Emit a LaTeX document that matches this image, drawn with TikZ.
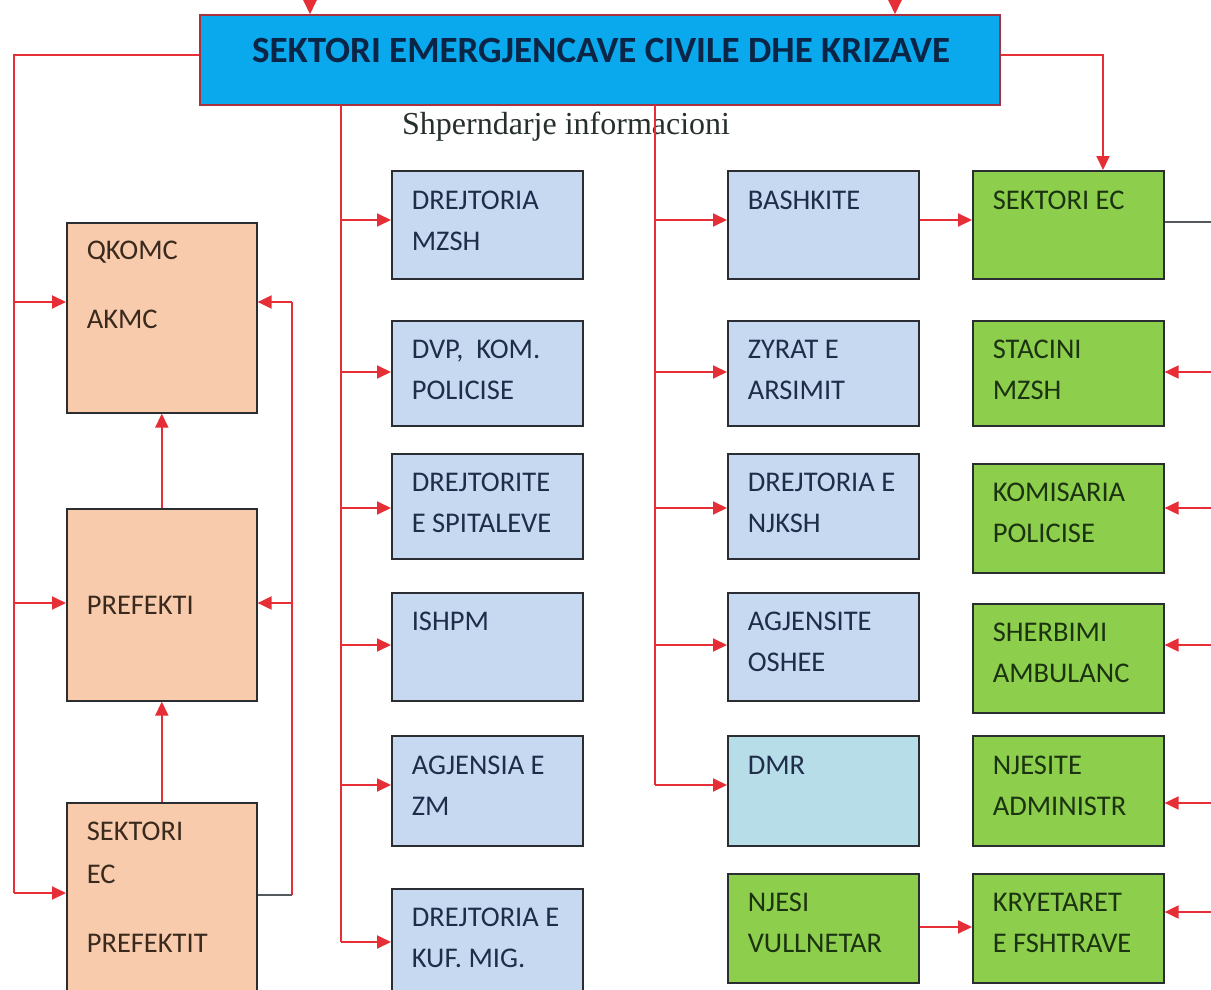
\documentclass[tikz,border=0pt]{standalone}
\usepackage{fontspec}
\setmainfont{Carlito}
\newfontfamily\serfont{Liberation Serif}
\usetikzlibrary{arrows.meta,calc}
\definecolor{lc}{HTML}{E62E36}
\definecolor{topf}{HTML}{0AA8EC}
\definecolor{topline}{HTML}{A8323E}
\definecolor{titlec}{HTML}{0B2546}
\definecolor{infoc}{HTML}{26302A}
\definecolor{peachf}{HTML}{F8CBAD}
\definecolor{peacht}{HTML}{3A2A1E}
\definecolor{bluef}{HTML}{C6D9F1}
\definecolor{bluet}{HTML}{1F2D4A}
\definecolor{dmrf}{HTML}{B7DDE8}
\definecolor{greenf}{HTML}{8DCF4C}
\definecolor{greent}{HTML}{1B3311}
\definecolor{boxline}{HTML}{2A2E33}
\newcommand{\bc}[4]{\parbox[c][#2pt][t]{#1pt}{\vspace*{#3pt}\leftskip=20pt\relax\noindent #4\par}}
\begin{document}
\begin{tikzpicture}[x=1pt,y=-1pt,
  box/.style={draw=boxline, line width=1.6pt, inner sep=0pt, anchor=north west, font=\fontsize{28.5}{41}\selectfont},
  peachbox/.style={box, fill=peachf, text=peacht},
  bluebox/.style={box, fill=bluef, text=bluet},
  dmrbox/.style={box, fill=dmrf, text=bluet},
  greenbox/.style={box, fill=greenf, text=greent},
  rl/.style={draw=lc, line width=1.9pt},
  dk/.style={draw=boxline!80, line width=1.9pt},
  arr/.style={rl, -{Triangle[length=14pt,width=13pt]}}
]
\useasboundingbox (0,0) rectangle (1211,990);

% top box
\node[draw=topline, line width=1.5pt, fill=topf, minimum width=800pt, minimum height=90pt, inner sep=0pt] (top) at (600,60) {};
\node[text=titlec, font=\bfseries\fontsize{37}{40}\selectfont, inner sep=0pt] (title) at (601,50) {SEKTORI EMERGJENCAVE CIVILE DHE KRIZAVE};
\node[anchor=west, inner sep=0pt, text=infoc, font=\serfont\fontsize{32}{34}\selectfont] (info) at (402,127) {Shperndarje informacioni};

% left column
\node[peachbox] (qk)  at (66,222) {\bc{190}{190}{18}{QKOMC\\[28pt]AKMC}};
\node[peachbox] (pre) at (66,508) {\bc{190}{192}{87}{PREFEKTI}};
\node[peachbox] (sek) at (66,802) {\bc{190}{210}{19}{SEKTORI\\[2pt]EC\\[28pt]PREFEKTIT}};

% column 2
\node[bluebox] (b1) at (391,170) {\bc{191}{108}{20}{DREJTORIA\\MZSH}};
\node[bluebox] (b2) at (391,320) {\bc{191}{105}{19}{DVP,~ KOM.\\POLICISE}};
\node[bluebox] (b3) at (391,453) {\bc{191}{105}{19}{DREJTORITE\\E SPITALEVE}};
\node[bluebox] (b4) at (391,592) {\bc{191}{108}{19}{ISHPM}};
\node[bluebox] (b5) at (391,735) {\bc{191}{110}{20}{AGJENSIA E\\ZM}};
\node[bluebox] (b6) at (391,888) {\bc{191}{120}{19}{DREJTORIA E\\KUF. MIG.}};

% column 3
\node[bluebox] (c1) at (727,170) {\bc{191}{108}{20}{BASHKITE}};
\node[bluebox] (c2) at (727,320) {\bc{191}{105}{19}{ZYRAT E\\ARSIMIT}};
\node[bluebox] (c3) at (727,453) {\bc{191}{105}{19}{DREJTORIA E\\NJKSH}};
\node[bluebox] (c4) at (727,592) {\bc{191}{108}{19}{AGJENSITE\\OSHEE}};
\node[dmrbox]  (c5) at (727,735) {\bc{191}{110}{20}{DMR}};
\node[greenbox] (c6) at (727,873) {\bc{191}{109}{19}{NJESI\\VULLNETAR}};

% column 4
\node[greenbox] (g1) at (972,170) {\bc{191}{108}{20}{SEKTORI EC}};
\node[greenbox] (g2) at (972,320) {\bc{191}{105}{19}{STACINI\\MZSH}};
\node[greenbox] (g3) at (972,463) {\bc{191}{109}{19}{KOMISARIA\\POLICISE}};
\node[greenbox] (g4) at (972,603) {\bc{191}{109}{19}{SHERBIMI\\AMBULANC}};
\node[greenbox] (g5) at (972,735) {\bc{191}{110}{20}{NJESITE\\ADMINISTR}};
\node[greenbox] (g6) at (972,873) {\bc{191}{109}{19}{KRYETARET\\E FSHTRAVE}};

% incoming arrows at top
\coordinate (in1) at (310,-2);
\coordinate (in2) at (895,-2);
\draw[arr] (in1) -- (in1 |- top.north);
\draw[arr] (in2) -- (in2 |- top.north);

% left loop
\coordinate (lx) at (14,55);
\draw[rl] (top.west |- lx) -- (lx) -- (lx |- 0,893);
\draw[arr] (lx |- 0,893) -- (sek.west |- 0,893);
\draw[arr] (lx |- 0,302) -- (qk.west |- 0,302);
\draw[arr] (lx |- 0,603) -- (pre.west |- 0,603);
\draw[arr] (pre.north) -- (qk.south);
\draw[arr] (sek.north) -- (pre.south);

% right loop of left column
\coordinate (rx) at (292,895);
\draw[dk] (sek.east |- rx) -- (rx);
\draw[rl] (rx) -- (rx |- 0,302);
\draw[arr] (rx |- 0,302) -- (qk.east |- 0,302);
\draw[arr] (rx |- 0,603) -- (pre.east |- 0,603);

% column 2 trunk
\coordinate (t2) at (341,105);
\draw[rl] (t2) -- (t2 |- 0,942);
\draw[arr] (t2 |- 0,220) -- (b1.west |- 0,220);
\draw[arr] (t2 |- 0,372) -- (b2.west |- 0,372);
\draw[arr] (t2 |- 0,508) -- (b3.west |- 0,508);
\draw[arr] (t2 |- 0,645) -- (b4.west |- 0,645);
\draw[arr] (t2 |- 0,785) -- (b5.west |- 0,785);
\draw[arr] (t2 |- 0,942) -- (b6.west |- 0,942);

% column 3 trunk
\coordinate (t3) at (655,105);
\draw[rl] (t3) -- (t3 |- 0,785);
\draw[arr] (t3 |- 0,220) -- (c1.west |- 0,220);
\draw[arr] (t3 |- 0,372) -- (c2.west |- 0,372);
\draw[arr] (t3 |- 0,508) -- (c3.west |- 0,508);
\draw[arr] (t3 |- 0,645) -- (c4.west |- 0,645);
\draw[arr] (t3 |- 0,785) -- (c5.west |- 0,785);

% right column connectors
\coordinate (c4x) at (1103,55);
\draw[arr] (top.east |- c4x) -- (c4x) -- (c4x |- g1.north);
\draw[arr] (c1.east |- 0,220) -- (g1.west |- 0,220);
\draw[dk] (g1.east |- 0,222) -- (1215,222);
\coordinate (re) at (1215,0);
\draw[arr] (re |- 0,372) -- (g2.east |- 0,372);
\draw[arr] (re |- 0,508) -- (g3.east |- 0,508);
\draw[arr] (re |- 0,645) -- (g4.east |- 0,645);
\draw[arr] (re |- 0,803) -- (g5.east |- 0,803);
\draw[arr] (re |- 0,912) -- (g6.east |- 0,912);
\draw[arr] (c6.east |- 0,927) -- (g6.west |- 0,927);
\end{tikzpicture}
\end{document}
